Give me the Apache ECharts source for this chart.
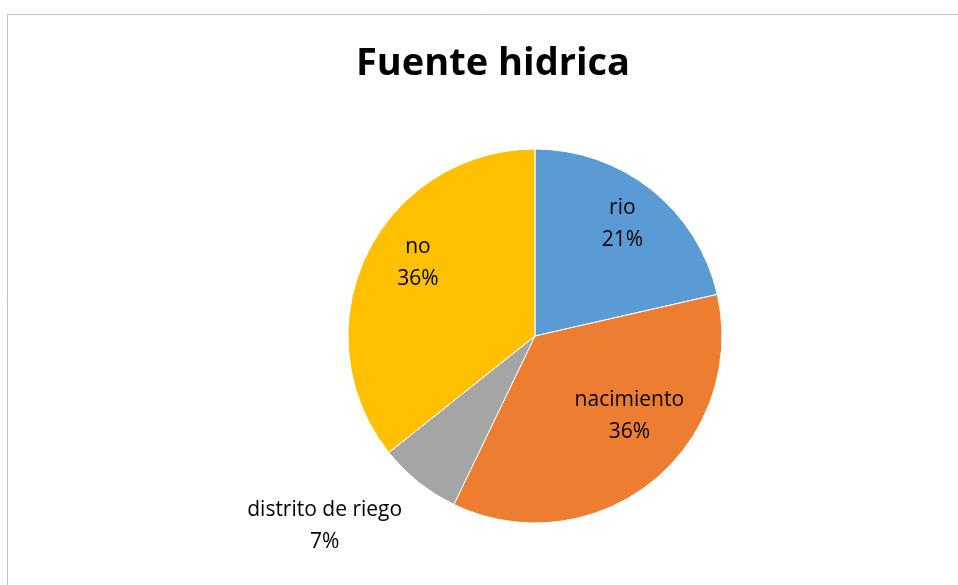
<!DOCTYPE html>
<html>
<head>
<meta charset="utf-8">
<script src="https://cdn.jsdelivr.net/npm/echarts@6/dist/echarts.min.js"></script>
<style>
  html, body { margin: 0; padding: 0; background: #fff; }
  #myChart { width: 958px; height: 585px; }
</style>
</head>
<body>
<div id="myChart"></div>
<script>
// datos (conteos -> porcentajes)
var categories = ['rio', 'nacimiento', 'distrito de riego', 'no'];
var values = [3, 5, 1, 5];
var colors = ['#5B9BD5', '#ED7D31', '#A5A5A5', '#FFC000'];
// desplazamiento de etiquetas (como Excel "mejor ajuste")
var labelShift = [[-2, 0], [5, -32], [-121, 78], [12, -11]];

var pieData = categories.map(function (name, i) {
  return { name: name, value: values[i], itemStyle: { color: colors[i] } };
});

var myChart = echarts.init(document.getElementById('myChart'));
var cx = 535, cy = 336, r = 187;
var font = '"Open Sans", "Liberation Sans", Arial, sans-serif';

myChart.setOption({
  animation: false,
  title: {
    text: 'Fuente hidrica',
    left: 488, top: 40, textAlign: 'center',
    textStyle: { fontSize: 38, fontWeight: 'bold', color: '#000', fontFamily: font }
  },
  graphic: [{
    type: 'rect',
    shape: { x: 7.5, y: 14.5, width: 1000, height: 700 },
    style: { fill: 'none', stroke: '#BFBFBF', lineWidth: 1 },
    silent: true
  }],
  series: [
    {
      type: 'pie',
      center: [cx, cy],
      radius: [0, r],
      startAngle: 90,
      clockwise: true,
      label: { show: false },
      labelLine: { show: false },
      itemStyle: { borderColor: '#fff', borderWidth: 1 },
      data: pieData
    },
    {
      // capa transparente para ubicar etiquetas a 3/4 del radio
      type: 'pie',
      center: [cx, cy],
      radius: [r / 2, r],
      startAngle: 90,
      clockwise: true,
      silent: true,
      itemStyle: { color: 'rgba(0,0,0,0)' },
      label: {
        show: true,
        position: 'inside',
        formatter: function (p) { return p.name + '\n' + Math.round(p.percent) + '%'; },
        fontSize: 21,
        lineHeight: 32,
        color: '#000',
        fontFamily: font
      },
      labelLine: { show: false },
      labelLayout: function (params) {
        var s = labelShift[params.dataIndex];
        return { dx: s[0], dy: s[1] };
      },
      data: categories.map(function (name, i) { return { name: name, value: values[i] }; })
    }
  ]
});
</script>
</body>
</html>
